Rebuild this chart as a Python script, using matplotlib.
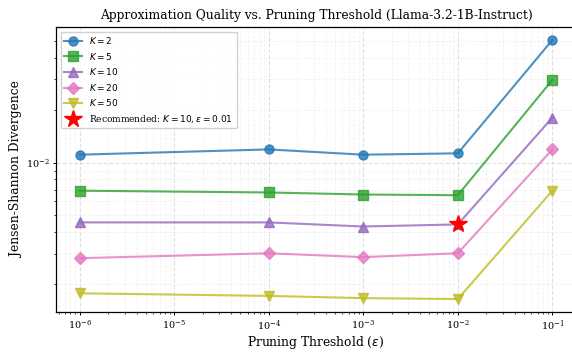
import matplotlib
matplotlib.use("Agg")
import matplotlib.pyplot as plt

plt.rcParams['font.family'] = 'DejaVu Serif'
plt.rcParams['mathtext.fontset'] = 'dejavusans'

thresholds = [1e-6, 1e-4, 1e-3, 1e-2, 1e-1]
k_values = [2, 5, 10, 20, 50]
jsd = {
    2:  [0.0111, 0.0119, 0.0111, 0.0113, 0.0505],
    5:  [0.0069, 0.00674, 0.00656, 0.0065, 0.0298],
    10: [0.00454, 0.00454, 0.0043, 0.00442, 0.0181],
    20: [0.00283, 0.00302, 0.00287, 0.00302, 0.0119],
    50: [0.00178, 0.00172, 0.00167, 0.00165, 0.0069],
}
rec_k = 10
rec_eps = 0.01
rec_val = 0.00442

colors = ['tab:blue', 'tab:green', 'tab:purple', 'tab:pink', 'tab:olive']
markers = ['o', 's', '^', 'D', 'v']

fig = plt.figure(figsize=(5.72, 3.56), dpi=100)
ax = fig.add_axes([56/572, 1-312/356, 520/572, (312-27)/356])

for k, c, m in zip(k_values, colors, markers):
    ax.plot(thresholds, jsd[k], color=c, marker=m, markersize=6.5, linewidth=1.5,
            alpha=0.8, label=f'$K = {k}$')

ax.plot([rec_eps], [rec_val], linestyle='none', marker='*', markersize=13,
        color='red', label=r'Recommended: $K = 10, \varepsilon = 0.01$', zorder=5)

ax.set_xscale('log')
ax.set_yscale('log')
ax.grid(True, which='major', linestyle='--', color='#cccccc', alpha=0.6, linewidth=0.8)
ax.grid(True, which='minor', linestyle='--', color='#dddddd', alpha=0.4, linewidth=0.6)

ax.set_xlabel(r'Pruning Threshold ($\varepsilon$)', fontsize=8.8, labelpad=1)
ax.set_ylabel('Jensen-Shannon Divergence', fontsize=8.8, labelpad=2)
ax.set_title('Approximation Quality vs. Pruning Threshold (Llama-3.2-1B-Instruct)', fontsize=8.8)
ax.tick_params(which='major', labelsize=7, length=2.5, width=0.7, pad=2)
ax.tick_params(which='minor', length=1.5, width=0.5)
for s in ax.spines.values():
    s.set_linewidth(0.9)
ax.legend(loc='upper left', fontsize=6.5, framealpha=0.9)

fig.savefig('out.png', dpi=100)
